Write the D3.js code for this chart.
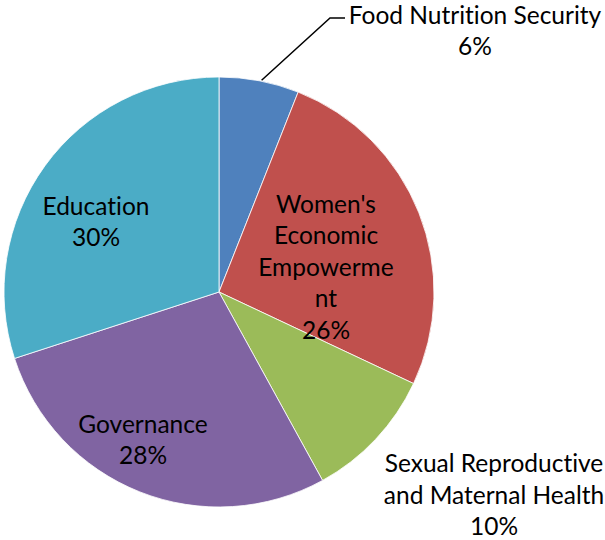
<!DOCTYPE html>
<html>
<head>
<meta charset="utf-8">
<script src="https://cdn.jsdelivr.net/npm/d3@7"></script>
<style>
  body { margin: 0; background: #fff; }
  .lbl { font-family: Lato, "Open Sans", sans-serif; font-size: 24.5px; fill: #000; font-variant-ligatures: none; font-feature-settings: "liga" 0, "dlig" 0; }
</style>
</head>
<body>
<div id="chart"></div>
<script>
// slices, clockwise from 12 o'clock
var categories = ["Food Nutrition Security", "Women's Economic Empowerment", "Sexual Reproductive and Maternal Health", "Governance", "Education"];
var values = [6, 26, 10, 28, 30];
var colors = ["#4F81BD", "#C0504D", "#9BBB59", "#8064A2", "#4BACC6"];
// label text lines as Excel wrapped them
var labelLines = [
  ["Food Nutrition Security", "6%"],
  ["Women's", "Economic", "Empowerme", "nt", "26%"],
  ["Sexual Reproductive", "and Maternal Health", "10%"],
  ["Governance", "28%"],
  ["Education", "30%"]
];

var width = 605, height = 540;
var dim = {
  cx: 219,
  cy: 292,
  r: 215,
  lineHeight: 31.5
};
// label anchor (centre of the text block)
var labelPos = [
  [475, 31],
  [326, 267],
  [494, 495],
  [143, 440],
  [96, 222]
];

var svg = d3.select("#chart").append("svg")
  .attr("width", width)
  .attr("height", height);

var g = svg.append("g")
  .attr("transform", "translate(" + dim.cx + "," + dim.cy + ")");

var pie = d3.pie().sort(null).value(function(d) { return d; });
var arcs = pie(values);
var arc = d3.arc().innerRadius(0).outerRadius(dim.r);

g.selectAll("path.slice")
  .data(arcs)
  .enter().append("path")
  .attr("class", "slice")
  .attr("d", arc)
  .attr("fill", function(d, i) { return colors[i]; })
  .attr("stroke", "#fff")
  .attr("stroke-width", 0.8);

// leader line for the small slice
var a0 = (arcs[0].startAngle + arcs[0].endAngle) / 2 + 0.01;
var sx = dim.cx + Math.sin(a0) * (dim.r + 1);
var sy = dim.cy - Math.cos(a0) * (dim.r + 1);
svg.append("path")
  .attr("d", "M" + sx + "," + sy + "L330,18L345,18")
  .attr("fill", "none")
  .attr("stroke", "#000")
  .attr("stroke-width", 1.5);

labelLines.forEach(function(lines, i) {
  var n = lines.length;
  var t = svg.append("text")
    .attr("class", "lbl")
    .attr("text-anchor", "middle");
  lines.forEach(function(line, j) {
    t.append("tspan")
      .attr("x", labelPos[i][0])
      .attr("y", labelPos[i][1] + (j - (n - 1) / 2) * dim.lineHeight)
      .attr("dy", "0.35em")
      .text(line);
  });
});
</script>
</body>
</html>
